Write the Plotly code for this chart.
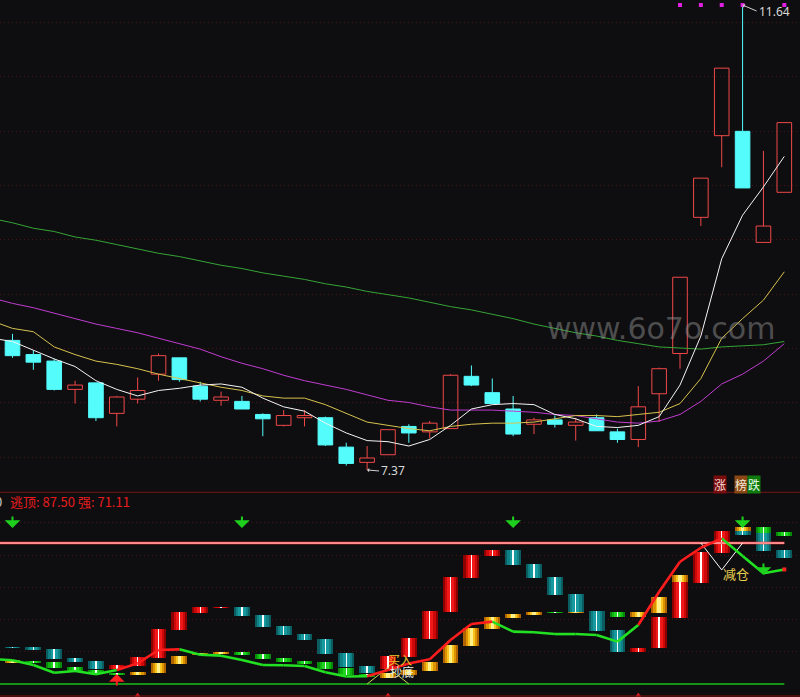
import plotly.graph_objects as go

BG = '#0e0e11'

# ---------------- price panel data (daily candles) ----------------
OPEN  = [8.56, 8.43, 8.37, 8.11, 8.17, 7.89, 8.02, 8.25, 8.40, 8.14, 8.01, 8.00, 7.88, 7.78, 7.85, 7.85, 7.58, 7.44, 7.51, 7.77,
         7.72, 7.75, 8.23, 8.08, 7.93, 7.79, 7.83, 7.78, 7.85, 7.72, 7.65, 8.07, 8.44, 9.69, 10.44, 10.48, 9.46, 9.92]
HIGH  = [8.62, 8.47, 8.39, 8.19, 8.17, 8.05, 8.22, 8.44, 8.40, 8.18, 8.09, 8.05, 7.89, 7.92, 7.92, 7.86, 7.62, 7.59, 7.74, 7.79,
         7.82, 8.25, 8.33, 8.21, 8.05, 7.85, 7.87, 7.85, 7.88, 7.75, 8.14, 8.31, 9.14, 10.05, 11.06, 11.64, 10.30, 10.56]
LOW   = [8.40, 8.29, 8.10, 7.98, 7.82, 7.77, 7.98, 8.19, 8.18, 8.00, 7.96, 7.93, 7.68, 7.77, 7.77, 7.59, 7.41, 7.37, 7.51, 7.62,
         7.66, 7.75, 8.14, 7.98, 7.68, 7.70, 7.76, 7.64, 7.73, 7.62, 7.58, 7.81, 8.30, 9.61, 10.15, 9.96, 9.46, 9.92]
CLOSE = [8.42, 8.36, 8.11, 8.15, 7.85, 8.04, 8.10, 8.42, 8.20, 8.02, 8.04, 7.93, 7.84, 7.87, 7.87, 7.60, 7.43, 7.48, 7.74, 7.71,
         7.80, 8.24, 8.15, 7.98, 7.70, 7.83, 7.79, 7.81, 7.73, 7.65, 7.95, 8.30, 9.14, 10.05, 11.06, 9.96, 9.61, 10.56]

# moving averages, first value belongs to the day before the first visible candle
MA5  = [8.58, 8.55, 8.47, 8.39, 8.32, 8.19, 8.11, 8.05, 8.10, 8.12, 8.15, 8.16, 8.13, 8.03, 7.95, 7.91, 7.80, 7.71, 7.64, 7.63,
        7.59, 7.65, 7.78, 7.93, 7.97, 7.98, 7.97, 7.88, 7.84, 7.77, 7.76, 7.78, 7.86, 8.15, 8.60, 9.31, 9.71, 9.97, 10.25]
MA10 = [8.74, 8.67, 8.64, 8.50, 8.43, 8.37, 8.34, 8.30, 8.25, 8.21, 8.17, 8.13, 8.10, 8.05, 8.03, 8.03, 7.97, 7.89, 7.81, 7.78,
        7.75, 7.73, 7.77, 7.79, 7.80, 7.80, 7.81, 7.84, 7.87, 7.87, 7.86, 7.88, 7.90, 7.98, 8.21, 8.58, 8.76, 8.93, 9.19]
MA20 = [8.95, 8.90, 8.86, 8.81, 8.76, 8.71, 8.67, 8.63, 8.58, 8.53, 8.48, 8.41, 8.35, 8.30, 8.24, 8.19, 8.15, 8.11, 8.06, 8.01,
        7.99, 7.95, 7.92, 7.92, 7.92, 7.91, 7.90, 7.88, 7.87, 7.84, 7.81, 7.80, 7.82, 7.88, 8.00, 8.16, 8.25, 8.37, 8.53]
MA60 = [9.68, 9.64, 9.59, 9.56, 9.51, 9.48, 9.44, 9.40, 9.36, 9.33, 9.29, 9.25, 9.22, 9.18, 9.15, 9.12, 9.08, 9.05, 9.01, 8.98,
        8.95, 8.91, 8.87, 8.84, 8.80, 8.76, 8.71, 8.67, 8.63, 8.60, 8.56, 8.53, 8.50, 8.49, 8.48, 8.50, 8.51, 8.52, 8.55]

SIGNAL_TOP_IDX = [32, 33, 34, 35, 37]

# ---------------- indicator panel data ----------------
ESCAPE_TOP = 87.50
IND_GRID = [20, 40, 60, 80, 100]

MAIN_KIND = ['T', 'T', 'T', 'T', 'T', 'R', 'R', 'R', 'R', 'R', 'R', 'T', 'T', 'T', 'T', 'T', 'T', 'T', 'R', 'R',
             'R', 'R', 'R', 'R', 'T', 'T', 'T', 'T', 'T', 'T', 'R', 'R', 'R', 'R', 'R', 'T', 'T', 'T']
MAIN_TOP = [23.2, 23.2, 21.7, 16.3, 14.3, 11.8, 16.9, 34.1, 44.9, 48.0, 48.0, 48.0, 42.8, 36.2, 31.0, 27.9, 19.4, 11.2, 17.4, 28.4,
            45.5, 66.6, 80.1, 83.2, 83.2, 74.5, 66.2, 55.7, 45.3, 33.3, 22.2, 41.8, 63.5, 82.1, 95.2, 95.0, 93.5, 83.2]
MAIN_BOT = [22.5, 21.1, 15.5, 13.7, 9.1, 9.3, 11.2, 16.0, 33.5, 44.3, 47.2, 42.2, 35.6, 30.4, 27.3, 18.6, 10.4, 7.0, 9.3, 16.9,
            27.9, 44.9, 66.0, 79.5, 73.9, 66.0, 55.2, 44.5, 32.9, 20.0, 20.0, 22.2, 41.2, 62.9, 81.5, 92.5, 82.6, 78.2]

SUB_KIND = ['G', 'N', 'N', 'N', 'N', 'N', 'G', 'G', 'G', 'G', 'G', 'N', 'N', 'N', 'N', 'N', 'N', 'N', 'G', 'G',
            'G', 'G', 'G', 'G', 'G', 'G', 'N', 'G', None, 'N', 'G', 'G', 'G', None, None, 'G', 'N', 'N']
SUB_TOP = [14.9, 14.3, 13.8, 10.7, 8.7, 6.6, 7.6, 13.2, 17.6, 19.4, 20.0, 20.0, 18.8, 16.3, 14.3, 13.5, 10.1, 6.2, 6.8, 8.7,
           13.8, 24.2, 34.9, 41.8, 43.5, 44.7, 44.7, 44.7, None, 44.7, 44.7, 53.8, 67.7, None, None, 97.5, 97.6, 94.5]
SUB_BOT = [13.2, 12.8, 10.1, 8.3, 6.2, 5.6, 5.6, 6.6, 12.4, 18.0, 18.6, 18.0, 15.5, 13.7, 12.4, 9.3, 5.6, 4.5, 3.7, 5.6,
           8.1, 13.2, 23.8, 34.1, 41.2, 43.0, 44.1, 44.1, None, 41.6, 41.6, 44.3, 63.5, None, None, 95.0, 93.5, 91.6]

# strength line, first value belongs to the day before the first visible candle
STRENGTH = [15.5, 14.7, 11.8, 7.0, 8.1, 6.0, 8.7, 12.8, 21.1, 21.5, 18.2, 17.6, 14.9, 11.8, 11.6, 11.2, 7.3, 4.7, 4.8, 8.7,
            12.7, 15.3, 27.3, 37.2, 38.7, 32.5, 32.1, 31.0, 31.0, 30.4, 26.3, 36.6, 57.3, 75.9, 84.6, 90.4, 79.5, 68.7, 71.11]
# colour of each segment of the strength line (r = red, g = green)
SEG_COLOR = list('gggggg' + 'rrr' + 'ggggggggg' + 'rrrrrr' + 'ggggggg' + 'rrrr' + 'ggg')

DOWN_ARROW_TOP_IDX = [0, 11, 24, 35]
DOWN_ARROW_LINE_IDX = [36]
UP_ARROW_IDX = [5]
BOTTOM_MARK_IDX = [6, 18, 30]
BUY_IDX = 18
REDUCE_IDX = 34

N = len(OPEN)
IDX = list(range(N))
MA_X = list(range(-1, N))

RED = '#f04848'
CYAN = '#54fcfc'

fig = go.Figure()

# ---- candles ----
up = [i for i in IDX if CLOSE[i] >= OPEN[i]]
dn = [i for i in IDX if CLOSE[i] < OPEN[i]]


def wick_xy(ids):
    xs, ys = [], []
    for i in ids:
        lo_b, hi_b = min(OPEN[i], CLOSE[i]), max(OPEN[i], CLOSE[i])
        if HIGH[i] > hi_b:
            xs += [i, i, None]
            ys += [hi_b, HIGH[i], None]
        if LOW[i] < lo_b:
            xs += [i, i, None]
            ys += [LOW[i], lo_b, None]
    return xs, ys


for ids, col, fill in [(up, RED, 'rgba(0,0,0,0)'), (dn, CYAN, CYAN)]:
    wx, wy = wick_xy(ids)
    fig.add_trace(go.Scatter(x=wx, y=wy, mode='lines', line=dict(color=col, width=1),
                             xaxis='x', yaxis='y', hoverinfo='skip'))
    fig.add_trace(go.Bar(x=ids, base=[min(OPEN[i], CLOSE[i]) for i in ids],
                         y=[abs(CLOSE[i] - OPEN[i]) for i in ids], width=0.7,
                         marker=dict(color=fill, line=dict(color=col, width=1)),
                         xaxis='x', yaxis='y', hoverinfo='skip'))

# ---- moving averages ----
for vals, col in [(MA60, '#36a436'), (MA20, '#c03cd0'), (MA10, '#d8c24c'), (MA5, '#f4f4f4')]:
    fig.add_trace(go.Scatter(x=MA_X, y=vals, mode='lines', line=dict(color=col, width=1),
                             xaxis='x', yaxis='y', hoverinfo='skip'))

# ---- signal dots ----
top_price = max(HIGH)
fig.add_trace(go.Scatter(x=SIGNAL_TOP_IDX, y=[top_price] * len(SIGNAL_TOP_IDX), mode='markers',
                         marker=dict(symbol='square', size=4, color='#e020e0'),
                         xaxis='x', yaxis='y', hoverinfo='skip'))

# ---- indicator bars (layered to imitate the shaded look) ----
STYLE = {
    'R': (['#8c0000', '#cc0808', '#f01818'], '#ffffff'),
    'T': (['#0a5c60', '#0f8084', '#169aa0'], '#ffffff'),
    'N': (['#078a07', '#10b410', '#1ed41e'], '#ffffff'),
    'G': (['#b06400', '#dc9400', '#f8c420'], '#fff08a'),
}
LAYER_W = [0.76, 0.56, 0.34]
CENTER_W = 0.07


def add_bars(kinds, tops, bots):
    for kind, (cols, ccol) in STYLE.items():
        ids = [i for i in IDX if kinds[i] == kind]
        if not ids:
            continue
        base = [bots[i] for i in ids]
        hgt = [tops[i] - bots[i] for i in ids]
        for w, c in zip(LAYER_W, cols):
            fig.add_trace(go.Bar(x=ids, base=base, y=hgt, width=w, marker=dict(color=c, line=dict(width=0)),
                                 xaxis='x2', yaxis='y2', hoverinfo='skip'))
        fig.add_trace(go.Bar(x=ids, base=base, y=hgt, width=CENTER_W if kind != 'G' else 0.16,
                             marker=dict(color=ccol, line=dict(width=0)),
                             xaxis='x2', yaxis='y2', hoverinfo='skip'))


add_bars(MAIN_KIND, MAIN_TOP, MAIN_BOT)
add_bars(SUB_KIND, SUB_TOP, SUB_BOT)

# ---- horizontal reference lines ----
fig.add_trace(go.Scatter(x=[MA_X[0], IDX[-1]], y=[0, 0], mode='lines', line=dict(color='#18c018', width=1.5),
                         xaxis='x2', yaxis='y2', hoverinfo='skip'))
fig.add_trace(go.Scatter(x=[MA_X[0], IDX[-1]], y=[ESCAPE_TOP, ESCAPE_TOP], mode='lines',
                         line=dict(color='#ff3030', width=2.6), xaxis='x2', yaxis='y2', hoverinfo='skip'))
fig.add_trace(go.Scatter(x=[MA_X[0], IDX[-1]], y=[ESCAPE_TOP, ESCAPE_TOP], mode='lines',
                         line=dict(color='#ffe0e0', width=1), xaxis='x2', yaxis='y2', hoverinfo='skip'))

# ---- buy / reduce helper lines ----
fig.add_trace(go.Scatter(x=[BUY_IDX - 1, BUY_IDX, BUY_IDX + 1], y=[0, STRENGTH[BUY_IDX + 1] + 1.5, 0], mode='lines',
                         line=dict(color='#c8d850', width=1), xaxis='x2', yaxis='y2', hoverinfo='skip'))
fig.add_trace(go.Scatter(x=[REDUCE_IDX - 1, REDUCE_IDX, REDUCE_IDX + 1],
                         y=[ESCAPE_TOP, STRENGTH[-1] - 0.3, ESCAPE_TOP], mode='lines',
                         line=dict(color='#ffffff', width=1), xaxis='x2', yaxis='y2', hoverinfo='skip'))

# ---- strength line, coloured by segment ----
for cc, col in [('g', '#22e022'), ('r', '#ff1c1c')]:
    xs, ys = [], []
    for k, c in enumerate(SEG_COLOR):
        if c == cc:
            xs += [MA_X[k], MA_X[k + 1], None]
            ys += [STRENGTH[k], STRENGTH[k + 1], None]
    fig.add_trace(go.Scatter(x=xs, y=ys, mode='lines', line=dict(color=col, width=2.6),
                             xaxis='x2', yaxis='y2', hoverinfo='skip'))
fig.add_trace(go.Scatter(x=[IDX[-1]], y=[STRENGTH[-1]], mode='markers',
                         marker=dict(symbol='square', size=4, color='#ff2020'),
                         xaxis='x2', yaxis='y2', hoverinfo='skip'))
fig.add_trace(go.Scatter(x=BOTTOM_MARK_IDX, y=[-7] * len(BOTTOM_MARK_IDX), mode='markers',
                         marker=dict(symbol='triangle-up', size=5, color='#e02020'),
                         xaxis='x2', yaxis='y2', hoverinfo='skip'))

annotations = []
GREEN_ARROW = dict(showarrow=True, arrowcolor='#1ed01e', arrowwidth=2, arrowhead=1, arrowsize=1.3,
                   text='', xref='x2', yref='y2', axref='pixel', ayref='pixel')
for i in DOWN_ARROW_TOP_IDX:
    annotations.append(dict(x=i, y=96.8, ax=0, ay=-13, **GREEN_ARROW))
for i in DOWN_ARROW_LINE_IDX:
    annotations.append(dict(x=i, y=STRENGTH[i + 1] - 1, ax=0, ay=-13, **GREEN_ARROW))
for i in UP_ARROW_IDX:
    annotations.append(dict(x=i, y=STRENGTH[i + 1] - 2.5, ax=0, ay=13, showarrow=True, arrowcolor='#ff2020',
                            arrowwidth=2, arrowhead=1, arrowsize=1.3, text='', xref='x2', yref='y2'))

CJK = 'Noto Sans CJK SC'
annotations += [
    dict(x=BUY_IDX, y=STRENGTH[BUY_IDX + 1] + 6.5, xref='x2', yref='y2', text='买入', showarrow=False,
         xanchor='left', yanchor='middle', xshift=-2, font=dict(family=CJK, size=12, color='#f2c22a')),
    dict(x=BUY_IDX, y=STRENGTH[BUY_IDX + 1] - 0.8, xref='x2', yref='y2', text='抄底', showarrow=False,
         xanchor='left', yanchor='middle', xshift=0, font=dict(family=CJK, size=12, color='#ecece0')),
    dict(x=REDUCE_IDX, y=STRENGTH[-1] - 2.5, xref='x2', yref='y2', text='减仓', showarrow=False,
         xanchor='left', yanchor='middle', xshift=-1, font=dict(family=CJK, size=13, color='#e8d050')),
    dict(x=0.01, y=1 - 501 / 697, xref='paper', yref='paper', xanchor='left', yanchor='middle', showarrow=False,
         text=f'逃顶: {ESCAPE_TOP:.2f} 强: {STRENGTH[-1]:.2f}', font=dict(family=CJK, size=13, color='#e81c1c')),
    dict(x=0, y=1 - 501 / 697, xref='paper', yref='paper', xanchor='right', yanchor='middle', xshift=4,
         showarrow=False, text='0', font=dict(family=CJK, size=13, color='#c8c8c8')),
    dict(x=720 / 800, y=1 - 484 / 697, xref='paper', yref='paper', showarrow=False, text='涨',
         xanchor='center', yanchor='middle',
         bgcolor='#7a0c0c', borderpad=0, font=dict(family=CJK, size=12, color='#f4d8d8')),
    dict(x=741 / 800, y=1 - 484 / 697, xref='paper', yref='paper', showarrow=False, text='榜',
         xanchor='center', yanchor='middle',
         bgcolor='#8a4814', borderpad=0, font=dict(family=CJK, size=12, color='#f4e8d8')),
    dict(x=753.5 / 800, y=1 - 484 / 697, xref='paper', yref='paper', showarrow=False, text='跌',
         xanchor='center', yanchor='middle',
         bgcolor='#0e7a0e', borderpad=0, font=dict(family=CJK, size=12, color='#e8ffe8')),
    dict(x=661 / 800, y=1 - 328 / 697, xref='paper', yref='paper', showarrow=False, text='www.6o7o.com',
         xanchor='center', yanchor='middle',
         font=dict(family='DejaVu Sans', size=30, color='rgba(140,140,140,0.5)')),
]

hi_i = HIGH.index(max(HIGH))
lo_i = LOW.index(min(LOW))
annotations += [
    dict(x=hi_i, y=HIGH[hi_i], xref='x', yref='y', text=f'{HIGH[hi_i]:.2f}', showarrow=True, ax=14, ay=6,
         xanchor='left', yanchor='middle', arrowcolor='#d0d0d0', arrowwidth=1, arrowhead=1, arrowsize=0.7,
         font=dict(family='Noto Sans', size=12, color='#d8d8d8')),
    dict(x=lo_i, y=LOW[lo_i], xref='x', yref='y', text=f'{LOW[lo_i]:.2f}', showarrow=True, ax=12, ay=1,
         xanchor='left', yanchor='middle', arrowcolor='#d0d0d0', arrowwidth=1, arrowhead=1, arrowsize=0.7,
         font=dict(family='Noto Sans', size=12, color='#d8d8d8')),
]

X_RANGE = [-0.599, 37.752]
fig.update_layout(
    width=800, height=697, margin=dict(l=0, r=0, t=0, b=0),
    paper_bgcolor=BG, plot_bgcolor=BG, showlegend=False, barmode='overlay', bargap=0,
    xaxis=dict(domain=[0, 1], range=X_RANGE, visible=False, anchor='y'),
    yaxis=dict(domain=[1 - 491 / 697, 1], range=[7.177, 11.686], tickmode='linear', tick0=11.478, dtick=0.4986,
               showticklabels=False, ticks='', zeroline=False, showline=False, showgrid=True,
               gridcolor='#4a1414', gridwidth=1, griddash='1px,3px', anchor='x'),
    xaxis2=dict(domain=[0, 1], range=X_RANGE, visible=False, anchor='y2', matches='x'),
    yaxis2=dict(domain=[0, 1 - 493 / 697], range=[-8.07, 118.56], tickmode='array', tickvals=IND_GRID,
                showticklabels=False, ticks='', zeroline=False, showline=False, showgrid=True,
                gridcolor='#4a1414', gridwidth=1, griddash='1px,3px', anchor='x2'),
    shapes=[
        dict(type='line', xref='paper', yref='paper', x0=0, x1=1, y0=1 - 492.3 / 697, y1=1 - 492.3 / 697,
             line=dict(color='#7a1414', width=1)),
        dict(type='line', xref='paper', yref='paper', x0=0, x1=1, y0=1 - 696 / 697, y1=1 - 696 / 697,
             line=dict(color='#8a1010', width=1)),
    ],
    annotations=annotations,
)

fig.write_html('out.html', config={'displayModeBar': False, 'staticPlot': True},
               post_script="document.body.style.margin='0';document.body.style.padding='0';"
                           "document.body.style.overflow='hidden';"
                           "document.body.style.background='" + BG + "';")
